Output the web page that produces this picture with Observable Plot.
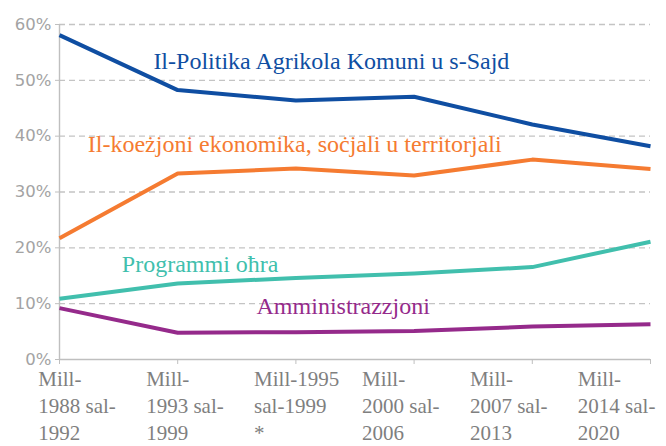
<!DOCTYPE html>
<html>
<head>
<meta charset="utf-8">
<script src="https://cdn.jsdelivr.net/npm/d3@7"></script>
<script src="https://cdn.jsdelivr.net/npm/@observablehq/plot@0.6"></script>
<style>
  html, body { margin: 0; padding: 0; background: #fff; }
  #chart svg { display: block; }
</style>
</head>
<body>
<div id="chart"></div>
<script>
// ---- data ----
const categories = [
  "Mill-\n1988 sal-\n1992",
  "Mill-\n1993 sal-\n1999",
  "Mill-1995\nsal-1999\n*",
  "Mill-\n2000 sal-\n2006",
  "Mill-\n2007 sal-\n2013",
  "Mill-\n2014 sal-\n2020"
];
const seriesNames = [
  "Il-Politika Agrikola Komuni u s-Sajd",
  "Il-koeżjoni ekonomika, soċjali u territorjali",
  "Programmi oħra",
  "Amministrazzjoni"
];
const capValues = [58.1, 48.25, 46.4, 47.05, 42.1, 38.2];
const cohesionValues = [21.7, 33.3, 34.2, 32.95, 35.8, 34.1];
const otherValues = [10.9, 13.6, 14.6, 15.4, 16.55, 21.1];
const adminValues = [9.2, 4.8, 4.9, 5.1, 5.9, 6.3];
const yTicks = [0, 10, 20, 30, 40, 50, 60];
const seriesColors = ["#0f4ea2", "#f57b31", "#41bfad", "#952a8b"];
// label anchors in data units (category index, percent)
const labelIndex = [2.3, 1.99, 1.19, 2.4];
const labelValue = [53.4, 38.55, 17.05, 9.45];

const allValues = [capValues, cohesionValues, otherValues, adminValues];
const rows = [];
allValues.forEach((vals, s) => vals.forEach((v, i) => rows.push({series: seriesNames[s], i, v})));
const labelRows = seriesNames.map((name, s) => ({name, x: labelIndex[s], y: labelValue[s], color: seriesColors[s]}));
const idx = categories.map((_, i) => i);
const serif = "'Liberation Serif', 'Times New Roman', 'DejaVu Serif', 'Noto Serif', serif";

const chart = Plot.plot({
  width: 666,
  height: 446,
  marginLeft: 59,
  marginRight: 16,
  marginTop: 24,
  marginBottom: 87,
  style: {fontFamily: serif},
  x: {type: "linear", domain: [0, categories.length - 1]},
  y: {domain: [0, 60]},
  color: {domain: seriesNames, range: seriesColors},
  marks: [
    Plot.gridY(yTicks.filter(t => t > 0), {stroke: "#c4c4c4", strokeOpacity: 1, strokeWidth: 1.4, strokeDasharray: "6,4"}),
    Plot.ruleY([0], {stroke: "#bfbfbf", strokeWidth: 1.4}),
    Plot.ruleX([0], {stroke: "#bfbfbf", strokeWidth: 1.4}),
    Plot.axisY({ticks: yTicks, tickSize: 4, tickPadding: 4, tickFormat: d => d + "%", stroke: "#bfbfbf", fill: "#a3a3a3", fontSize: 16.5, fontFamily: "DejaVu Sans", label: null}),
    Plot.axisX({ticks: idx, tickSize: 5, tickFormat: () => "", stroke: "#bfbfbf", label: null}),
    Plot.text(categories, {
      x: (d, i) => i * 0.913 - 0.18,
      y: 0,
      text: d => d,
      textAnchor: "start",
      lineAnchor: "top",
      lineHeight: 1.27,
      dy: 8,
      fontSize: 21,
      fontFamily: serif,
      fill: "#7f7f7f"
    }),
    Plot.line(rows, {x: "i", y: "v", z: "series", stroke: "series", strokeWidth: 4, strokeLinejoin: "round", strokeLinecap: "butt"}),
    Plot.text(labelRows, {x: "x", y: "y", text: "name", fill: "color", fontSize: 24, fontFamily: serif, textAnchor: "middle", lineAnchor: "middle"})
  ]
});
document.getElementById("chart").appendChild(chart);
</script>
</body>
</html>
